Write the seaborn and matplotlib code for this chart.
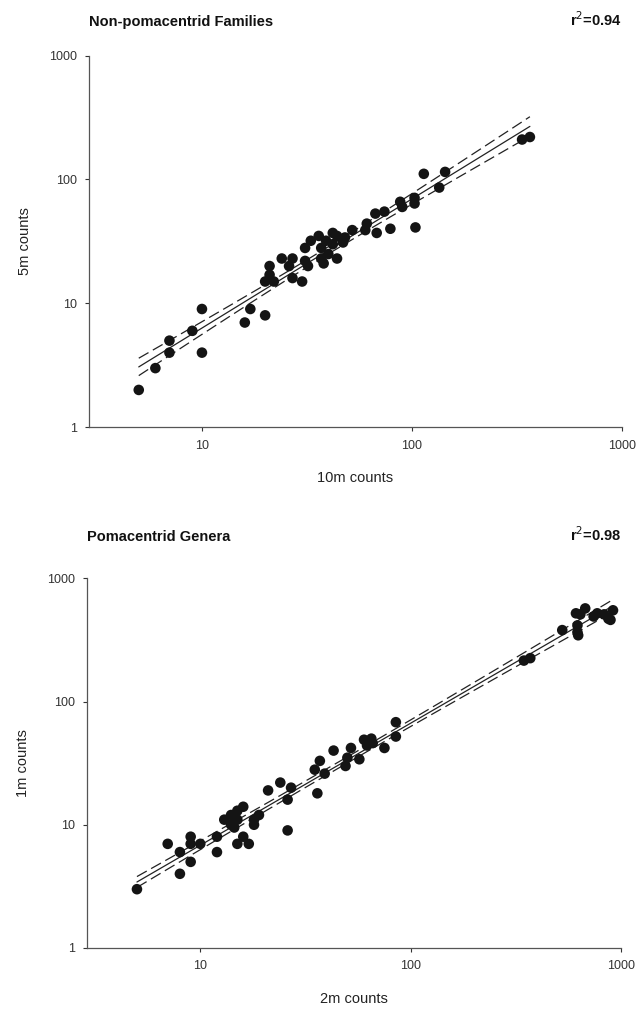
import numpy as np
import pandas as pd
import matplotlib
matplotlib.use("Agg")
import matplotlib.pyplot as plt
import seaborn as sns

# %% data (counts, log-log)
fam_10m = [5, 6, 7, 7, 9, 10, 10, 16, 17, 20, 21, 20, 22, 21, 24, 27, 26, 27, 30, 31,
           33, 36, 31, 32, 37, 40, 42, 44, 47, 44, 48, 52, 37, 39, 42, 38, 60, 61, 67, 74,
           68, 79, 88, 90, 103, 103, 104, 114, 135, 144, 335, 365]
fam_5m = [2, 3, 4, 5, 6, 9, 4, 7, 9, 8, 20, 15, 15, 17, 23, 23, 20, 16, 15, 28,
          32, 35, 22, 20, 23, 25, 37, 35, 31, 23, 34, 39, 28, 32, 30, 21, 39, 44, 53, 55,
          37, 40, 66, 60, 71, 64, 41, 111, 86, 115, 210, 220]

gen_2m = [5, 7, 8, 8, 9, 9, 9, 10, 12, 12, 13, 14, 14, 15, 16, 15, 15, 17, 16, 14.5,
          18, 19, 18, 21, 24, 27, 26, 26, 36, 35, 37, 39, 43, 49, 50, 52, 57, 60, 65, 62,
          66, 75, 85, 85, 345, 370, 525, 620, 625, 610, 675, 640, 770, 870, 915, 830,
          890, 620, 740]
gen_1m = [3, 7, 4, 6, 8, 7, 5, 7, 8, 6, 11, 12, 10, 13, 14, 11, 7, 7, 8, 9.5,
          11, 12, 10, 19, 22, 20, 16, 9, 18, 28, 33, 26, 40, 30, 35, 42, 34, 49, 50, 44,
          46, 42, 68, 52, 215, 225, 380, 415, 345, 520, 570, 510, 520, 470, 550, 510,
          460, 365, 490]

panels = [
    ("Non-pomacentrid Families", "r$^2$=0.94", "10m counts", "5m counts", fam_10m, fam_5m),
    ("Pomacentrid Genera", "r$^2$=0.98", "2m counts", "1m counts", gen_2m, gen_1m),
]

sns.set_style("ticks")
plt.rcParams['font.family'] = ['Liberation Sans', 'DejaVu Sans']

fig = plt.figure(figsize=(6.41, 10.10), dpi=100)
axes_pos = [[0.139, 0.577, 0.831, 0.368], [0.136, 0.0614, 0.833, 0.366]]
title_y = [1 - 22 / 1010, 1 - 537 / 1010]


def fit_band(x, y):
    # least squares on log10 values, with 95% band for the mean
    lx, ly = np.log10(x), np.log10(y)
    n = len(lx)
    b, a = np.polyfit(lx, ly, 1)
    resid = ly - (a + b * lx)
    s = np.sqrt(np.sum(resid ** 2) / (n - 2))
    gx = np.linspace(lx.min(), lx.max(), 100)
    se = s * np.sqrt(1 / n + (gx - lx.mean()) ** 2 / np.sum((lx - lx.mean()) ** 2))
    fit = a + b * gx
    return 10 ** gx, 10 ** fit, 10 ** (fit - 2.0 * se), 10 ** (fit + 2.0 * se)


for i, (title, r2, xlab, ylab, xs, ys) in enumerate(panels):
    ax = fig.add_axes(axes_pos[i])
    df = pd.DataFrame({"x": xs, "y": ys})
    gx, gy, lo, hi = fit_band(df["x"].values, df["y"].values)

    ax.plot(gx, gy, color="#222222", lw=0.9)
    ax.plot(gx, lo, color="#222222", lw=0.9, dashes=(9, 4))
    ax.plot(gx, hi, color="#222222", lw=0.9, dashes=(9, 4))
    sns.scatterplot(data=df, x="x", y="y", ax=ax, color="#141414", s=58,
                    edgecolor="none", zorder=3, legend=False)

    ax.set_xscale("log")
    ax.set_yscale("log")
    ax.set_xlim(2.9, 1000)
    ax.set_ylim(1, 1000)
    ax.minorticks_off()
    ax.set_xticks([10, 100, 1000])
    ax.set_xticklabels(["10", "100", "1000"])
    ax.set_yticks([1, 10, 100, 1000])
    ax.set_yticklabels(["1", "10", "100", "1000"])
    ax.tick_params(length=3, width=0.8, colors="#333333", labelsize=9, pad=6)
    for sp in ["top", "right"]:
        ax.spines[sp].set_visible(False)
    for sp in ["left", "bottom"]:
        ax.spines[sp].set_color("#555555")
        ax.spines[sp].set_linewidth(0.9)

    ax.set_xlabel(xlab, fontsize=10.5, labelpad=14, color="#222222")
    ax.set_ylabel(ylab, fontsize=10.5, labelpad=12, color="#222222")

    x0 = axes_pos[i][0]
    fig.text(x0, title_y[i], title, fontsize=10.5, fontweight="bold",
             ha="left", va="center", color="#111111")
    fig.text(0.970, title_y[i] + 0.002, r2, fontsize=10.5, fontweight="bold",
             ha="right", va="center", color="#111111")

fig.savefig("out.png", dpi=100, facecolor="white")
